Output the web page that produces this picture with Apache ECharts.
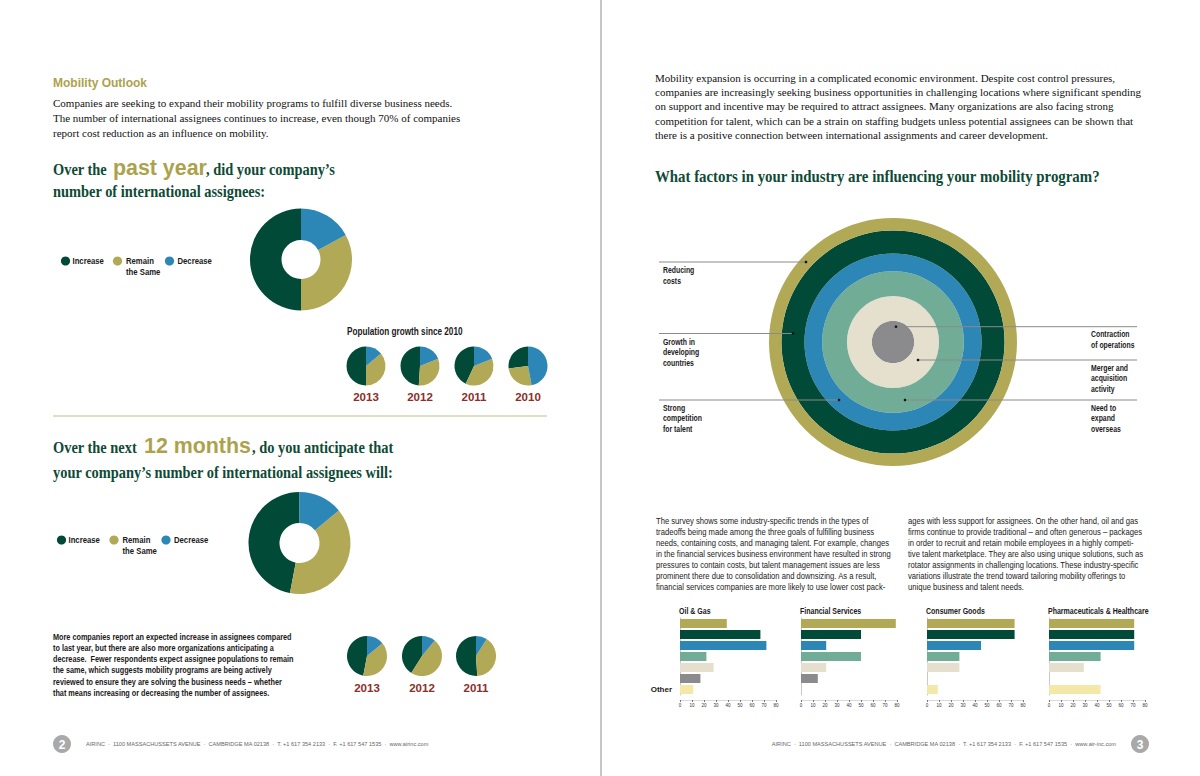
<!DOCTYPE html>
<html><head><meta charset="utf-8">
<script src="https://cdn.jsdelivr.net/npm/echarts@6/dist/echarts.min.js"></script>
<style>html,body{margin:0;padding:0;background:#fff}#c{width:1200px;height:776px}</style>
</head><body><div id="c"></div>
<script>
// ---------- DATA ----------
const responseLabels = ['Increase', 'Remain the Same', 'Decrease'];
const pastYearShares = [50, 33, 17];
const nextYearShares = [47, 39, 14];
const pastYears = ['2013', '2012', '2011', '2010'];
const pastYearHistory = [[50, 36, 14], [49, 32, 19], [43, 38, 19], [27, 26, 47]];
const nextYears = ['2013', '2012', '2011'];
const nextYearHistory = [[47, 39, 14], [41, 48, 11], [51, 40, 9]];
const factorNames = ['Reducing costs', 'Growth in developing countries', 'Strong competition for talent',
  'Need to expand overseas', 'Merger and acquisition activity', 'Contraction of operations'];
const factorShares = [70, 63, 50, 40, 26, 12];
const industryNames = ['Oil & Gas', 'Financial Services', 'Consumer Goods', 'Pharmaceuticals & Healthcare'];
const barCategories = factorNames.concat(['Other']);
const oilGas = [39, 67, 72, 22, 28, 17, 11];
const financialServices = [79, 50, 21, 50, 21, 14, 0];
const consumerGoods = [73, 73, 45, 27, 27, 0, 9];
const pharmaHealthcare = [71, 71, 71, 43, 29, 0, 43];
const industryValues = [oilGas, financialServices, consumerGoods, pharmaHealthcare];
const barTickMax = 80, barTickStep = 10;

// ---------- STYLE ----------
const COL = { green: '#004a37', olive: '#b2a957', blue: '#2c87b7', teal: '#71ad96', cream: '#e4e0cd', gray: '#8b8b8d', yellow: '#f3e8a8' };
const respColors = [COL.green, COL.olive, COL.blue];
const factorColors = [COL.olive, COL.green, COL.blue, COL.teal, COL.cream, COL.gray, COL.yellow];
const SERIF = "'Liberation Serif', 'DejaVu Serif', serif";
const NARROW = "'Liberation Sans', Arial, sans-serif";
const SANS = "'Liberation Sans', Arial, sans-serif";
const HEAD = '#0e4a36', ACCENT = '#aca24c', YEAR = '#8c2e2a';

const chart = echarts.init(document.getElementById('c'), null, { renderer: 'svg' });
const g = [];
function txt(x, y, text, o) {
  o = o || {};
  g.push({ type: 'text', x: x, y: y, scaleX: o.sx || 1, silent: true, z: 50, style: {
    text: text, fill: o.fill || '#1a1a1a', fontSize: o.size || 10, fontFamily: o.family || NARROW,
    fontWeight: o.weight || 'normal', align: o.align || 'left', verticalAlign: o.va || 'middle' } });
}
function line(x1, y1, x2, y2, stroke, w) {
  g.push({ type: 'line', silent: true, z: 40, shape: { x1, y1, x2, y2 }, style: { stroke: stroke, lineWidth: w || 1 } });
}
function dot(cx, cy, r, fill, z) {
  g.push({ type: 'circle', silent: true, z: z || 45, shape: { cx, cy, r }, style: { fill: fill } });
}

// ---------- LEFT PAGE TEXT ----------
txt(53, 83, 'Mobility Outlook', { size: 12, weight: 'bold', family: SANS, fill: ACCENT });
['Companies are seeking to expand their mobility programs to fulfill diverse business needs.',
 'The number of international assignees continues to increase, even though 70% of companies',
 'report cost reduction as an influence on mobility.'].forEach((s, i) => txt(53, 103 + 15 * i, s, { size: 11, family: SERIF, fill: '#111' }));

const H = { size: 16, family: SERIF, fill: HEAD, weight: 'bold', sx: 0.9 };
const A = { size: 23, family: SANS, weight: 'bold', fill: ACCENT, sx: 0.93 };
txt(53, 169, 'Over the', H);
txt(113, 167, 'past year', A);
txt(206, 169, ', did your company\u2019s', H);
txt(53, 191, 'number of international assignees:', H);

function legend(y, xs) {
  const L = { size: 9, weight: 'bold', sx: 0.86 };
  dot(xs[0], y, 4.6, COL.green); txt(xs[0] + 7, y, 'Increase', L);
  dot(xs[1], y, 4.6, COL.olive); txt(xs[1] + 8.5, y, 'Remain', L);
  txt(xs[1] + 8.5, y + 11, 'the Same', L);
  dot(xs[2], y, 4.6, COL.blue); txt(xs[2] + 8, y, 'Decrease', L);
}
legend(261, [65.5, 117.5, 169.5]);

txt(347, 332, 'Population growth since 2010', { size: 10, weight: 'bold', sx: 0.82 });
const row1X = [366, 420, 474, 528];
pastYears.forEach((y, i) => txt(row1X[i], 397, y, { size: 11.5, weight: 'bold', family: SANS, fill: YEAR, align: 'center' }));

line(53, 416, 547, 416, '#d9d3b3', 1.5);

txt(53, 447, 'Over the next', H);
txt(144, 445, '12 months', A);
txt(252, 447, ', do you anticipate that', H);
txt(53, 472, 'your company\u2019s number of international assignees will:', H);

legend(540, [61.5, 114, 166]);

['More companies report an expected increase in assignees compared',
 'to last year, but there are also more organizations anticipating a',
 'decrease.  Fewer respondents expect assignee populations to remain',
 'the same, which suggests mobility programs are being actively',
 'reviewed to ensure they are solving the business needs \u2013 whether',
 'that means increasing or decreasing the number of assignees.'].forEach((s, i) => txt(53, 637 + 11.2 * i, s, { size: 9, weight: 'bold', sx: 0.81 }));

const row2X = [367, 422, 476];
nextYears.forEach((y, i) => txt(row2X[i], 688, y, { size: 11.5, weight: 'bold', family: SANS, fill: YEAR, align: 'center' }));

// ---------- RIGHT PAGE TEXT ----------
['Mobility expansion is occurring in a complicated economic environment. Despite cost control pressures,',
 'companies are increasingly seeking business opportunities in challenging locations where significant spending',
 'on support and incentive may be required to attract assignees. Many organizations are also facing strong',
 'competition for talent, which can be a strain on staffing budgets unless potential assignees can be shown that',
 'there is a positive connection between international assignments and career development.'].forEach((s, i) => txt(655, 78 + 14.2 * i, s, { size: 11, family: SERIF, fill: '#111' }));
txt(655, 176, 'What factors in your industry are influencing your mobility program?', { size: 16.5, family: SERIF, fill: HEAD, weight: 'bold', sx: 0.9 });

// ring annotations
const LEFT_X = 659, RIGHT_X = 1137;
const R = { size: 8.5, weight: 'bold', sx: 0.81 };
line(LEFT_X, 262, 806, 262, '#8a8a8a'); dot(806, 262, 1.3, '#111', 60);
txt(663, 270, 'Reducing', R); txt(663, 281, 'costs', R);
line(LEFT_X, 333.5, 793, 333.5, '#8a8a8a'); dot(793, 333.5, 1.3, '#111', 60);
['Growth in', 'developing', 'countries'].forEach((s, i) => txt(663, 342 + 10.7 * i, s, R));
line(LEFT_X, 400, 839, 400, '#8a8a8a'); dot(839, 400, 1.3, '#111', 60);
['Strong', 'competition', 'for talent'].forEach((s, i) => txt(663, 408 + 10.5 * i, s, R));
line(896, 326.7, RIGHT_X, 326.7, '#8a8a8a'); dot(896, 326.7, 1.3, '#111', 60);
['Contraction', 'of operations'].forEach((s, i) => txt(1091, 334 + 11 * i, s, R));
line(918, 360, RIGHT_X, 360, '#8a8a8a'); dot(918, 360, 1.3, '#111', 60);
['Merger and', 'acquisition', 'activity'].forEach((s, i) => txt(1091, 368 + 10.6 * i, s, R));
line(905, 400, RIGHT_X, 400, '#8a8a8a'); dot(905, 400, 1.3, '#111', 60);
['Need to', 'expand', 'overseas'].forEach((s, i) => txt(1091, 408 + 10.6 * i, s, R));

const P = { size: 8.6, sx: 0.89 };
['The survey shows some industry-specific trends in the types of',
 'tradeoffs being made among the three goals of fulfilling business',
 'needs, containing costs, and managing talent. For example, changes',
 'in the financial services business environment have resulted in strong',
 'pressures to contain costs, but talent management issues are less',
 'prominent there due to consolidation and downsizing. As a result,',
 'financial services companies are more likely to use lower cost pack-'].forEach((s, i) => txt(656, 521 + 11 * i, s, P));
['ages with less support for assignees. On the other hand, oil and gas',
 'firms continue to provide traditional \u2013 and often generous \u2013 packages',
 'in order to recruit and retain mobile employees in a highly competi-',
 'tive talent marketplace. They are also using unique solutions, such as',
 'rotator assignments in challenging locations. These industry-specific',
 'variations illustrate the trend toward tailoring mobility offerings to',
 'unique business and talent needs.'].forEach((s, i) => txt(908, 521 + 11 * i, s, P));

const panelLeft = [680, 801, 927, 1049];
industryNames.forEach((n, i) => txt(panelLeft[i] - 1, 611, n, { size: 9, weight: 'bold', sx: 0.78 }));

// ---------- FOOTER ----------
line(601, 0, 601, 776, '#8c8c8c', 1);
dot(62, 744, 9, '#a9a9a9'); txt(62, 744.5, '2', { size: 12, weight: 'bold', family: SANS, fill: '#fff', align: 'center' });
dot(1140, 744, 9, '#a9a9a9'); txt(1140, 744.5, '3', { size: 12, weight: 'bold', family: SANS, fill: '#fff', align: 'center' });
txt(86, 744, 'AIRINC  \u00b7  1100 MASSACHUSSETS AVENUE  \u00b7  CAMBRIDGE MA 02138  \u00b7  T. +1 617 354 2133  \u00b7  F. +1 617 547 1535  \u00b7  www.airinc.com', { size: 5.6, fill: '#666' });
txt(1116, 744, 'AIRINC  \u00b7  1100 MASSACHUSSETS AVENUE  \u00b7  CAMBRIDGE MA 02138  \u00b7  T. +1 617 354 2133  \u00b7  F. +1 617 547 1535  \u00b7  www.air-inc.com', { size: 5.6, fill: '#666', align: 'right' });

// ---------- SERIES ----------
function pie(center, inner, outer, shares) {
  return { type: 'pie', center: center, radius: [inner, outer], startAngle: 90, clockwise: false,
    silent: true, animation: false, label: { show: false }, labelLine: { show: false },
    itemStyle: { borderWidth: 0 },
    data: shares.map((v, i) => ({ name: responseLabels[i], value: v, itemStyle: { color: respColors[i] } })) };
}
const series = [];
series.push(pie([301, 259.5], 19.5, 51, pastYearShares));
pastYearHistory.forEach((s, i) => series.push(pie([row1X[i], 366], 0, 19.5, s)));
series.push(pie([299.5, 543], 20, 51, nextYearShares));
nextYearHistory.forEach((s, i) => series.push(pie([row2X[i], 656], 0, 20, s)));

// concentric rings: stacked radial bars, innermost factor first
for (let i = factorNames.length - 1; i >= 0; i--) {
  const inner = i + 1 < factorShares.length ? factorShares[i + 1] : 0;
  series.push({
    type: 'bar', name: factorNames[i], coordinateSystem: 'polar', stack: 'rings',
    data: [factorShares[i] - inner], barWidth: '100%',
    silent: true, animation: false, itemStyle: { color: factorColors[i] }
  });
}

const grids = [], xAxes = [], yAxes = [];
industryValues.forEach((vals, i) => {
  grids.push({ left: panelLeft[i], top: 618, width: 96, height: 77 });
  xAxes.push({ gridIndex: i, type: 'value', min: 0, max: barTickMax, interval: barTickStep, offset: 5,
    axisLine: { show: true, lineStyle: { color: '#cfcfcf', width: 0.8 } },
    axisTick: { show: true, length: 2, lineStyle: { color: '#777' } },
    axisLabel: { fontSize: 4.5, color: '#333', margin: 2.5, fontFamily: SANS }, splitLine: { show: false } });
  yAxes.push({ gridIndex: i, type: 'category', data: barCategories, inverse: true,
    axisLine: { show: true, lineStyle: { color: '#c8c8c8', width: 1 } }, axisTick: { show: false },
    axisLabel: { show: i === 0, interval: 0, margin: 8, fontSize: 8, fontWeight: 'bold', color: '#1a1a1a', fontFamily: NARROW,
      formatter: v => (v === 'Other' ? v : '') } });
  series.push({ type: 'bar', name: industryNames[i], xAxisIndex: i, yAxisIndex: i, barWidth: 9, silent: true, animation: false,
    data: vals.map((v, j) => ({ value: v, itemStyle: { color: factorColors[j] } })) });
});

chart.setOption({
  backgroundColor: '#ffffff',
  animation: false,
  polar: { center: [893, 342], radius: 124 },
  angleAxis: { type: 'category', data: ['factors'], show: false, startAngle: 90 },
  radiusAxis: { type: 'value', min: 0, max: factorShares[0], show: false },
  grid: grids, xAxis: xAxes, yAxis: yAxes,
  series: series,
  graphic: { elements: g }
});
</script></body></html>
